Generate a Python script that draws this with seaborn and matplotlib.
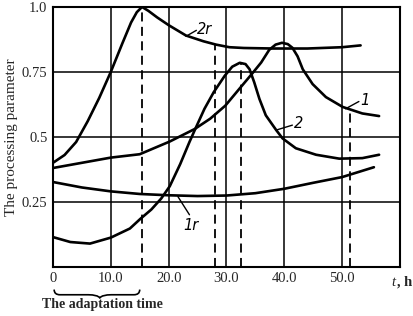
import numpy as np
import pandas as pd
import seaborn as sns
import matplotlib.pyplot as plt
from matplotlib.path import Path
from matplotlib.patches import PathPatch

# curve values (t in hours)
t_2r = [0, 2, 4, 6, 8, 10, 12, 13.5, 14.5, 15.4, 16.5, 18, 20, 23, 26, 28.2, 30.5, 33, 38, 44, 50, 53.2]
v_2r = [0.40, 0.43, 0.48, 0.56, 0.65, 0.75, 0.86, 0.94, 0.98, 1.0, 0.985, 0.96, 0.93, 0.89, 0.868, 0.855, 0.845, 0.842, 0.84, 0.84, 0.845, 0.852]

t_1 = [0, 5, 10, 15, 20.2, 24.5, 27.2, 29.8, 32.2, 34.5, 36, 37.4, 38.5, 39.6, 40.6, 41.4, 42.3, 43.2, 44.9, 47.2, 50.1, 53.5, 56.4]
v_1 = [0.38, 0.40, 0.42, 0.433, 0.482, 0.53, 0.57, 0.62, 0.684, 0.745, 0.786, 0.835, 0.855, 0.862, 0.857, 0.843, 0.81, 0.76, 0.703, 0.653, 0.615, 0.59, 0.58]

t_2 = [0, 3, 6.4, 10, 13.3, 15.1, 17, 18.7, 20.2, 22, 23.6, 24.6, 26.2, 27.8, 29.7, 31, 32.3, 33.3, 34, 34.8, 35.7, 36.8, 38.6, 39.7, 42, 45.5, 49.5, 53.5, 56.4]
v_2 = [0.114, 0.095, 0.089, 0.112, 0.147, 0.184, 0.22, 0.262, 0.31, 0.395, 0.48, 0.53, 0.608, 0.672, 0.735, 0.77, 0.785, 0.78, 0.76, 0.71, 0.646, 0.583, 0.526, 0.494, 0.456, 0.431, 0.416, 0.418, 0.431]

t_1r = [0, 5, 10, 15, 20, 25, 30, 35, 40, 45, 50, 55.5]
v_1r = [0.326, 0.305, 0.29, 0.28, 0.275, 0.272, 0.274, 0.283, 0.30, 0.323, 0.345, 0.383]

# dashed markers: time and height
dash_t = [15.4, 28.1, 32.5, 51.3]
dash_top = [1.0, 0.855, 0.785, 0.60]

x_ticks = [0, 10, 20, 30, 40, 50]
x_labels = ["0", "10.0", "20.0", "30.0", "40.0", "50.0"]
y_ticks = [0.25, 0.5, 0.75, 1.0]
y_labels = ["0.25", "0.5", "0.75", "1.0"]

sns.set_theme(style="white")
plt.rcParams["font.family"] = ["Liberation Serif", "DejaVu Serif"]

fig = plt.figure(figsize=(4.14, 3.16), dpi=100)
ax = fig.add_axes([0.128, 0.156, 0.838, 0.822])

curves = [(t_2r, v_2r), (t_1, v_1), (t_2, v_2), (t_1r, v_1r)]
for tt, vv in curves:
    sns.lineplot(x=tt, y=vv, ax=ax, color="black", lw=1.9, estimator=None, sort=False)

for xt, yt in zip(dash_t, dash_top):
    ax.plot([xt, xt], [0, yt], color="black", lw=1.3, ls=(0, (5, 3)))

ax.set_xlim(0, 60)
ax.set_ylim(0, 1.0)
ax.set_xticks(x_ticks)
ax.set_xticklabels(x_labels, fontsize=10.5)
ax.set_yticks(y_ticks)
ax.set_yticklabels(y_labels, fontsize=10.5)
ax.tick_params(length=0, pad=4)
ax.grid(True, color="black", lw=1.1)
for s in ax.spines.values():
    s.set_color("black")
    s.set_linewidth(1.5)

ax.set_ylabel("The processing parameter", fontsize=11, labelpad=3)

# curve labels with leaders
lab_kw = dict(fontsize=10.5, style="italic", family="DejaVu Sans", color="black")
ax.plot([23.0, 24.8], [0.887, 0.91], color="black", lw=1)
ax.text(24.9, 0.915, "2r", ha="left", va="center", **lab_kw)
ax.plot([50.6, 52.9], [0.608, 0.636], color="black", lw=1)
ax.text(53.2, 0.64, "1", ha="left", va="center", **lab_kw)
ax.plot([38.6, 41.4], [0.526, 0.545], color="black", lw=1)
ax.text(41.6, 0.55, "2", ha="left", va="center", **lab_kw)
ax.plot([21.6, 23.6], [0.27, 0.20], color="black", lw=1)
ax.text(22.6, 0.16, "1r", ha="left", va="center", **lab_kw)

trans = ax.get_xaxis_transform()
ax.text(58.6, -0.035, "t", fontsize=10.5, style="italic", ha="left", va="top",
        transform=trans, clip_on=False)
ax.text(59.5, -0.035, ", h", fontsize=10.5, fontweight="bold", ha="left", va="top",
        transform=trans, clip_on=False)

# brace under the adaptation time
x0, x1 = 0.2, 15.0
xm = 8.1
yb, yd, ytip = -0.088, -0.108, -0.12
verts = [(x0, yb), (x0, yd), (x0 + 1, yd), (x0 + 3, yd), (xm - 2, yd), (xm - 0.4, yd), (xm, ytip),
         (xm + 0.4, yd), (xm + 2, yd), (x1 - 3, yd), (x1 - 1, yd), (x1, yd), (x1, yb)]
codes = [Path.MOVETO, Path.CURVE3, Path.CURVE3, Path.LINETO, Path.LINETO, Path.CURVE3, Path.CURVE3,
         Path.CURVE3, Path.CURVE3, Path.LINETO, Path.LINETO, Path.CURVE3, Path.CURVE3]
ax.add_patch(PathPatch(Path(verts, codes), transform=trans, fill=False, edgecolor="black",
                       lw=1.2, clip_on=False))
ax.text(-1.9, -0.122, "The adaptation time", fontsize=10, fontweight="bold",
        ha="left", va="top", transform=trans, clip_on=False)

fig.savefig("out.png", dpi=100)
